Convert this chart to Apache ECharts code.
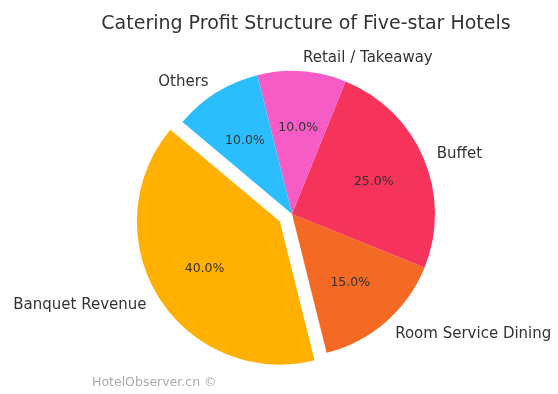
<!DOCTYPE html>
<html>
<head>
<meta charset="utf-8">
<script src="https://cdn.jsdelivr.net/npm/echarts@6/dist/echarts.min.js"></script>
<style>html,body{margin:0;padding:0;background:#fff}#c{width:558px;height:394px}</style>
</head>
<body>
<div id="c"></div>
<script>
var categories = ['Banquet Revenue', 'Room Service Dining', 'Buffet', 'Retail / Takeaway', 'Others'];
var values = [40, 15, 25, 10, 10];
var colors = ['#FFB000', '#F46A25', '#F6335B', '#F75BC6', '#2BBEFE'];
var explodedIndex = 0;

var R = 143;
var CX = 292, CY = 214;
var FONT = 'DejaVu Sans';
var total = values.reduce(function (a, b) { return a + b; }, 0);

function buildData(transparent) {
  return categories.map(function (name, i) {
    return {
      name: name,
      value: values[i],
      selected: i === explodedIndex,
      itemStyle: { color: transparent ? 'rgba(0,0,0,0)' : colors[i] }
    };
  });
}

var chart = echarts.init(document.getElementById('c'), null, { renderer: 'canvas' });
chart.setOption({
  backgroundColor: '#fff',
  animation: false,
  title: {
    text: 'Catering Profit Structure of Five-star Hotels',
    left: 301, top: 10, textAlign: 'center',
    textStyle: { fontFamily: FONT, fontSize: 19, fontWeight: 'normal', color: '#333' }
  },
  graphic: [{
    type: 'text', left: 92, top: 376,
    style: { text: 'HotelObserver.cn ©', fontFamily: FONT, fontSize: 12.5, fill: '#aaaaaa' }
  }],
  series: [{
    type: 'pie',
    center: [CX, CY],
    radius: [0, R],
    startAngle: 140,
    clockwise: false,
    selectedMode: 'single',
    selectedOffset: R * 0.1,
    avoidLabelOverlap: false,
    silent: true,
    data: buildData(false),
    label: {
      show: true, position: 'outside', fontFamily: FONT, fontSize: 15, color: '#333',
      distanceToLabelLine: 0, overflow: 'none', bleedMargin: 0, offset: [0, 1.5],
      formatter: '{b}'
    },
    labelLine: { show: false, length: R * 0.1, length2: 0 },
    emphasis: { disabled: true }
  }, {
    type: 'pie',
    center: [CX, CY],
    radius: [R * 0.2, R],
    startAngle: 140,
    clockwise: false,
    selectedMode: 'single',
    selectedOffset: R * 0.1,
    avoidLabelOverlap: false,
    silent: true,
    data: buildData(true),
    label: {
      show: true, position: 'inside', fontFamily: FONT, fontSize: 12.5, color: '#333',
      offset: [0, 2],
      formatter: function (p) { return (p.value / total * 100).toFixed(1) + '%'; }
    },
    labelLine: { show: false },
    emphasis: { disabled: true }
  }]
});
</script>
</body>
</html>
